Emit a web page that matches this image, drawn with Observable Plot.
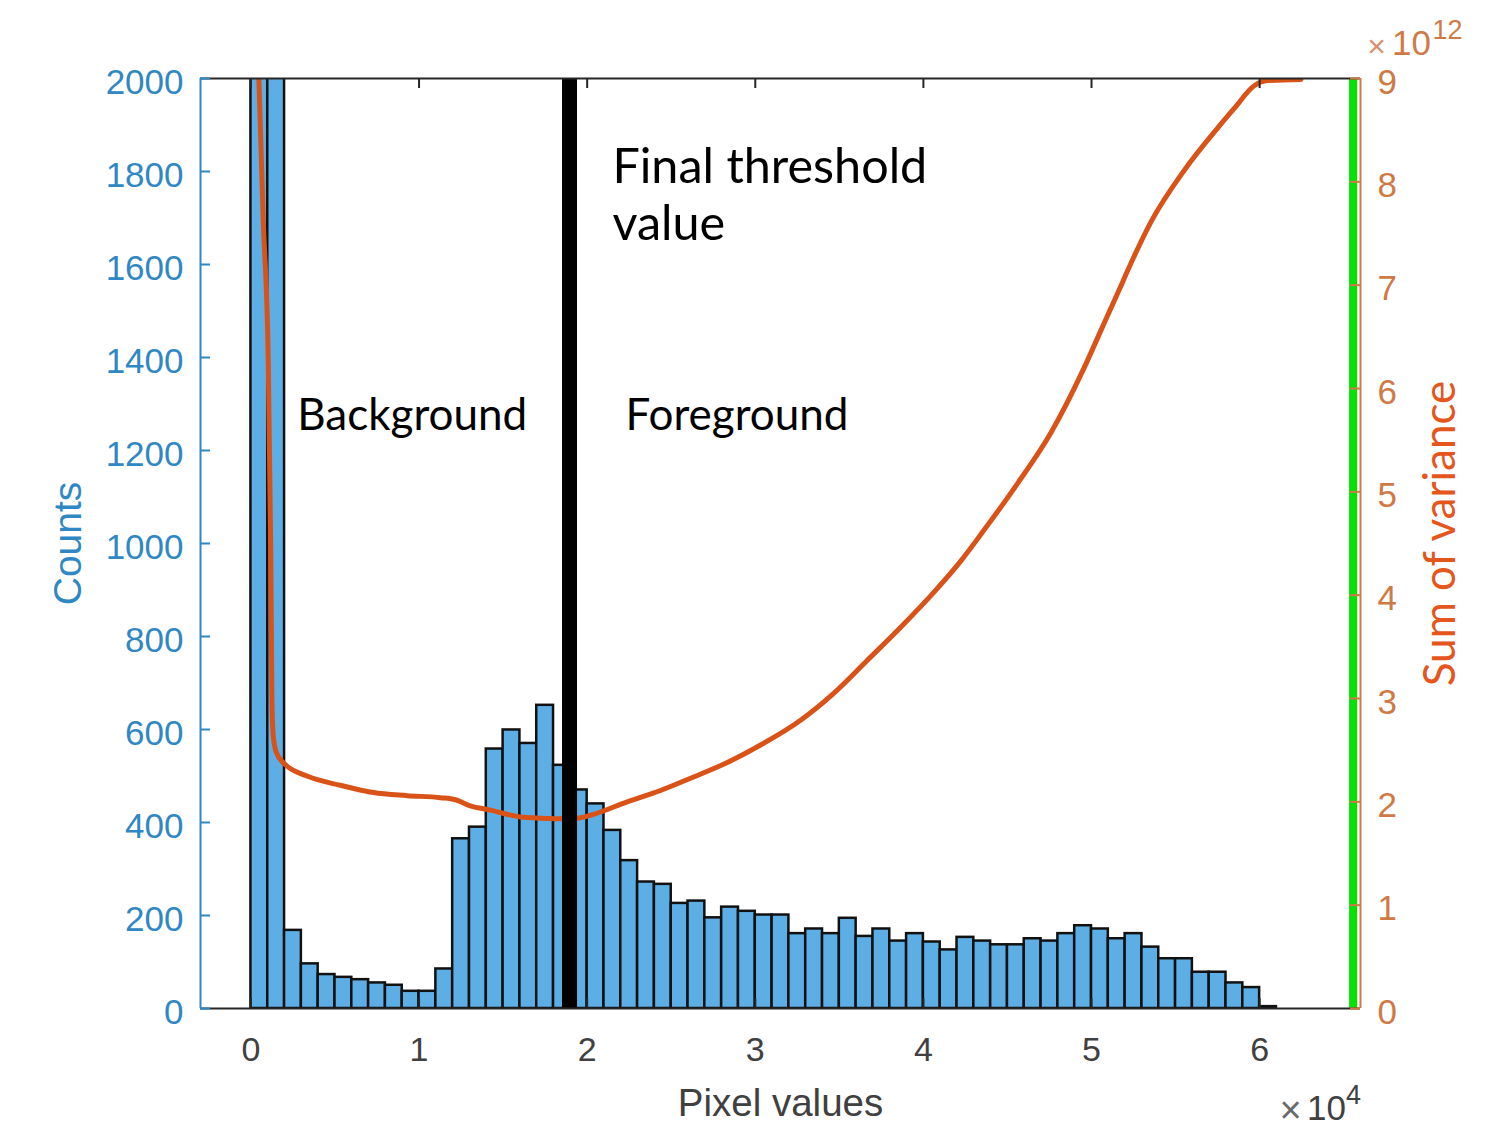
<!DOCTYPE html>
<html>
<head>
<meta charset="utf-8">
<script src="https://cdn.jsdelivr.net/npm/d3@7"></script>
<script src="https://cdn.jsdelivr.net/npm/@observablehq/plot@0.6"></script>
<style>
  html, body { margin: 0; padding: 0; background: #ffffff; }
  #chart svg { display: block; }
</style>
</head>
<body>
<div id="chart"></div>
<script>
// ---- Data ----
// Histogram bins: lower edge of each bin (pixel values), bin width 1000
const binStarts = [0,1000,2000,3000,4000,5000,6000,7000,8000,9000,10000,11000,12000,13000,14000,15000,16000,17000,18000,19000,
  20000,21000,22000,23000,24000,25000,26000,27000,28000,29000,30000,31000,32000,33000,34000,35000,36000,37000,38000,39000,
  40000,41000,42000,43000,44000,45000,46000,47000,48000,49000,50000,51000,52000,53000,54000,55000,56000,57000,58000,59000,60000];
const binWidth = 1000;
const counts = [5200,3400,168,96,73,67,62,55,50,37,37,85,365,390,558,599,570,652,523,470,
  440,383,318,272,267,226,231,195,218,209,201,201,161,171,161,194,155,171,145,161,
  143,126,153,145,137,137,150,145,161,178,171,150,161,132,107,107,78,78,55,45,4];

// Sum of variance curve (x10^12) against candidate threshold (pixel value)
const varX = [435,732,1030,1179,1250,1327,1506,1982,3333,5315,7280,9286,11268,12161,13054,14244,16208,18214,19304,20196,
  22381,24363,26327,28333,30315,32696,34661,36667,38649,40631,42220,43607,45595,47577,49560,50554,51548,52536,53530,55512,
  57500,58488,59679,60476,62458];
const varY = [9.2,7.63,6.27,4.43,2.98,2.64,2.48,2.37,2.25,2.16,2.09,2.06,2.04,2.02,1.96,1.92,1.85,1.836,1.84,1.87,
  2.0,2.11,2.24,2.38,2.55,2.79,3.05,3.37,3.69,4.03,4.33,4.63,5.08,5.57,6.20,6.56,6.92,7.28,7.61,8.11,
  8.52,8.71,8.93,8.98,8.99];

const thresholdValue = 18950;
const greenLineValue = 65560;

const xTicks = [0,10000,20000,30000,40000,50000,60000];
const xTickLabels = ["0","1","2","3","4","5","6"];
const yTicks = [0,200,400,600,800,1000,1200,1400,1600,1800,2000];
const y2Ticks = [0,1,2,3,4,5,6,7,8,9];

const xDomain = [-3000, 66000];
const yDomain = [0, 2000];
const y2Max = 9;

// ---- Build tables ----
const bins = binStarts.map((b, i) => ({x0: b, x1: b + binWidth, count: counts[i]}));
const curve = varX.map((x, i) => ({x, v: varY[i]}));
const toLeft = v => v * yDomain[1] / y2Max;

const blue = "#2f87c3";
const orangeAxis = "#cf7a45";
const orangeLabel = "#e4561c";
const grey = "#404040";
const tickFont = "'Liberation Sans', Arial, sans-serif";
const annFont = "Lato, 'Open Sans', sans-serif";

const W = 1501, H = 1134;
const mL = 200, mR = 141, mT = 78, mB = 126;
const plotW = W - mL - mR, plotH = H - mT - mB;

const mid = {textAnchor: "middle", lineAnchor: "middle"};

const chart = Plot.plot({
  width: W, height: H,
  marginLeft: mL, marginRight: mR, marginTop: mT, marginBottom: mB,
  x: {domain: xDomain, axis: null},
  y: {domain: yDomain, axis: null},
  style: {fontFamily: tickFont, background: "#ffffff", overflow: "visible"},
  marks: [
    // histogram
    Plot.rectY(bins, {x1: "x0", x2: "x1", y: "count", fill: "#5eaee6", stroke: "#111111", strokeWidth: 2.5, clip: true}),
    // sum of variance curve (right axis)
    Plot.line(curve, {x: "x", y: d => toLeft(d.v), stroke: "#d95319", strokeWidth: 5, curve: "monotone-x", clip: true}),
    // final threshold
    Plot.ruleX([thresholdValue], {x: d => d, stroke: "#000000", strokeWidth: 15}),
    // green marker line at right
    Plot.ruleX([greenLineValue], {x: d => d, stroke: "#00e400", strokeWidth: 8}),
    // box lines
    Plot.ruleY([yDomain[1]], {y: d => d, stroke: "#262626", strokeWidth: 2}),
    Plot.ruleY([yDomain[0]], {y: d => d, stroke: "#262626", strokeWidth: 2}),
    Plot.ruleX([xDomain[0]], {x: d => d, stroke: blue, strokeWidth: 2}),
    Plot.ruleX([xDomain[1]], {x: d => d, stroke: orangeAxis, strokeWidth: 2}),
    // tick marks (inward, MATLAB style)
    Plot.ruleY(yTicks, {y: d => d, insetRight: plotW - 10, stroke: blue, strokeWidth: 2}),
    Plot.ruleY(y2Ticks, {y: d => toLeft(d), insetLeft: plotW - 10, stroke: orangeAxis, strokeWidth: 2}),
    Plot.ruleX(xTicks, {x: d => d, insetBottom: plotH - 10, stroke: "#262626", strokeWidth: 2}),
    Plot.ruleX(xTicks, {x: d => d, insetTop: plotH - 10, stroke: "#262626", strokeWidth: 2}),
    // left tick labels
    Plot.text(yTicks, {y: d => d, text: d => String(d), frameAnchor: "left", dx: -17, dy: 4, textAnchor: "end", lineAnchor: "middle",
      fill: blue, fontSize: 35, fontFamily: tickFont}),
    // right tick labels
    Plot.text(y2Ticks, {y: d => toLeft(d), text: d => String(d), frameAnchor: "right", dx: 17, dy: 4, textAnchor: "start", lineAnchor: "middle",
      fill: orangeAxis, fontSize: 35, fontFamily: tickFont}),
    // x tick labels
    Plot.text(xTicks, {x: d => d, text: (d, i) => xTickLabels[i], frameAnchor: "bottom", dy: 42, ...mid,
      fill: grey, fontSize: 34, fontFamily: tickFont}),
    // axis labels
    Plot.text(["Pixel values"], {text: d => d, frameAnchor: "bottom", dy: 95, ...mid, fill: grey, fontSize: 38.5, fontFamily: tickFont}),
    Plot.text(["Counts"], {text: d => d, frameAnchor: "left", dx: -132, rotate: -90, ...mid, fill: blue, fontSize: 39, fontFamily: tickFont}),
    Plot.text(["Sum of variance"], {text: d => d, frameAnchor: "right", dx: 80, dy: -10, rotate: -90, ...mid, fill: orangeLabel, fontSize: 44, fontFamily: annFont}),
    // exponent labels
    Plot.text(["\u00d7"], {text: d => d, frameAnchor: "bottom-right", dx: -70, dy: 102, ...mid, fill: "#6a6a6a", fontSize: 38, fontFamily: tickFont}),
    Plot.text(["10"], {text: d => d, frameAnchor: "bottom-right", dx: -34, dy: 100, ...mid, fill: grey, fontSize: 35, fontFamily: tickFont}),
    Plot.text(["4"], {text: d => d, frameAnchor: "bottom-right", dx: -7, dy: 87, ...mid, fill: grey, fontSize: 27, fontFamily: tickFont}),
    Plot.text(["\u00d7"], {text: d => d, frameAnchor: "top-right", dx: 16, dy: -32, ...mid, fill: "#d49070", fontSize: 32, fontFamily: tickFont}),
    Plot.text(["10"], {text: d => d, frameAnchor: "top-right", dx: 51, dy: -35, ...mid, fill: orangeAxis, fontSize: 35, fontFamily: tickFont}),
    Plot.text(["12"], {text: d => d, frameAnchor: "top-right", dx: 87, dy: -48, ...mid, fill: orangeAxis, fontSize: 27, fontFamily: tickFont}),
    // annotations
    Plot.text(["Final threshold"], {x: 21500, y: 1809, text: d => d, textAnchor: "start", lineAnchor: "middle", fill: "#000", fontSize: 48.5, fontFamily: annFont}),
    Plot.text(["value"], {x: 21500, y: 1686, text: d => d, textAnchor: "start", lineAnchor: "middle", fill: "#000", fontSize: 48.5, fontFamily: annFont}),
    Plot.text(["Background"], {x: 2756, y: 1275, text: d => d, textAnchor: "start", lineAnchor: "middle", fill: "#000", fontSize: 44, fontFamily: annFont}),
    Plot.text(["Foreground"], {x: 22280, y: 1275, text: d => d, textAnchor: "start", lineAnchor: "middle", fill: "#000", fontSize: 44, fontFamily: annFont})
  ]
});
document.getElementById("chart").appendChild(chart);
</script>
</body>
</html>
